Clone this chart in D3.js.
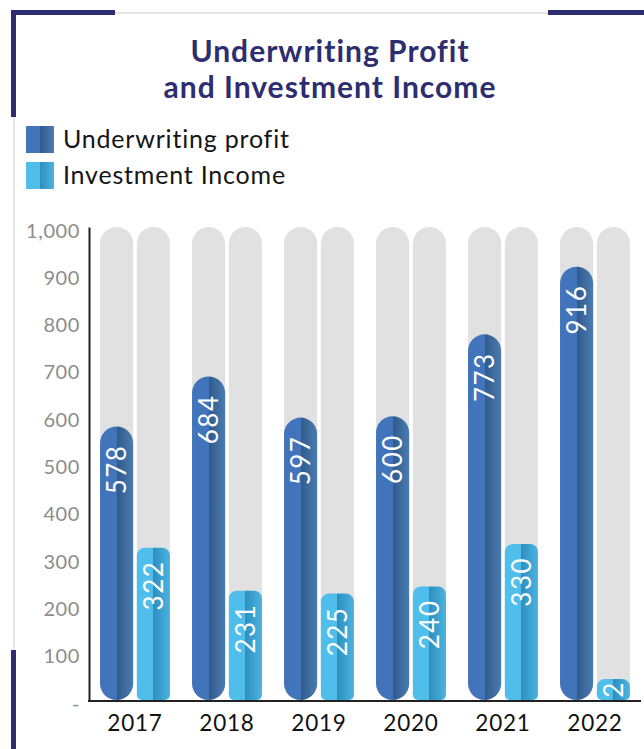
<!DOCTYPE html>
<html>
<head>
<meta charset="utf-8">
<script src="https://cdn.jsdelivr.net/npm/d3@7/dist/d3.min.js"></script>
<style>
  html, body { margin: 0; padding: 0; background: #fff; }
  svg { display: block; font-family: Lato, "Open Sans", sans-serif; }
</style>
</head>
<body>
<svg id="chart" width="644" height="749"></svg>
<script>
// ---- data ----
const years = ["2017", "2018", "2019", "2020", "2021", "2022"];
const underwritingProfit = [578, 684, 597, 600, 773, 916];
const investmentIncome = [322, 231, 225, 240, 330, 2];
const seriesNames = ["Underwriting profit", "Investment Income"];
const yTickValues = [0, 100, 200, 300, 400, 500, 600, 700, 800, 900, 1000];
const titleLines = ["Underwriting Profit", "and Investment Income"];

// ---- layout ----
const W = 644, H = 749;
const plot = { left: 89, right: 641, top: 227, bottom: 700 };
const navy = "#2e2d6f";
const minBarPx = 21;

const svg = d3.select("#chart");

// gradients: flat left half, shaded right half
const defs = svg.append("defs");
function addGradient(id, base, shadeStart, shadeEnd) {
  const g = defs.append("linearGradient").attr("id", id)
    .attr("x1", "0").attr("x2", "1").attr("y1", "0").attr("y2", "0");
  g.append("stop").attr("offset", "0").attr("stop-color", base);
  g.append("stop").attr("offset", "0.5").attr("stop-color", base);
  g.append("stop").attr("offset", "0.5").attr("stop-color", shadeStart);
  g.append("stop").attr("offset", "1").attr("stop-color", shadeEnd);
}
addGradient("gradUnder", "#4174bb", "#305a8a", "#4a7cb2");
addGradient("gradInvest", "#50beea", "#2e8fbf", "#4bb4e1");
const fills = ["url(#gradUnder)", "url(#gradInvest)"];

// ---- frame decoration ----
const frame = svg.append("g");
frame.append("line").attr("x1", 115).attr("x2", 548).attr("y1", 13).attr("y2", 13)
  .attr("stroke", "#e6e6e6").attr("stroke-width", 2);
frame.append("line").attr("x1", 14).attr("x2", 14).attr("y1", 117).attr("y2", 650)
  .attr("stroke", "#e6e6e6").attr("stroke-width", 2);
frame.append("path").attr("d", "M13.5,117 V12.5 H115")
  .attr("fill", "none").attr("stroke", navy).attr("stroke-width", 5);
frame.append("line").attr("x1", 548).attr("x2", 644).attr("y1", 12.5).attr("y2", 12.5)
  .attr("stroke", navy).attr("stroke-width", 5);
frame.append("line").attr("x1", 13.5).attr("x2", 13.5).attr("y1", 650).attr("y2", 749)
  .attr("stroke", navy).attr("stroke-width", 5);

// ---- title ----
svg.append("g").selectAll("text").data(titleLines).join("text")
  .attr("x", 330)
  .attr("y", (d, i) => 61.5 + i * 36)
  .attr("text-anchor", "middle")
  .attr("font-size", 30)
  .attr("letter-spacing", 1)
  .attr("font-weight", 700)
  .attr("fill", navy)
  .text(d => d);

// ---- legend ----
const legend = svg.append("g").selectAll("g").data(seriesNames).join("g")
  .attr("transform", (d, i) => `translate(26,${126 + i * 36})`);
legend.append("rect").attr("width", 28).attr("height", 27)
  .attr("fill", (d, i) => fills[i]);
legend.append("text").attr("x", 37).attr("y", 21.5)
  .attr("font-size", 25).attr("letter-spacing", 0.8)
  .attr("fill", "#151515").text(d => d);

// ---- scales ----
const x = d3.scaleBand().domain(years)
  .range([plot.left, plot.right]).paddingInner(0.24).paddingOuter(0.12);
const xSub = d3.scaleBand().domain([0, 1])
  .range([0, x.bandwidth()]).paddingInner(0.1);
const y = d3.scaleLinear().domain([0, 1000]).range([plot.bottom, plot.top]);

// rounded-column path with separate top/bottom radii
function column(x0, y0, w, h, rTop, rBot) {
  rTop = Math.min(rTop, w / 2, h / 2);
  rBot = Math.min(rBot, w / 2, h / 2);
  return `M${x0},${y0 + rTop}` +
    `A${rTop},${rTop} 0 0 1 ${x0 + rTop},${y0}` +
    `L${x0 + w - rTop},${y0}` +
    `A${rTop},${rTop} 0 0 1 ${x0 + w},${y0 + rTop}` +
    `L${x0 + w},${y0 + h - rBot}` +
    `A${rBot},${rBot} 0 0 1 ${x0 + w - rBot},${y0 + h}` +
    `L${x0 + rBot},${y0 + h}` +
    `A${rBot},${rBot} 0 0 1 ${x0},${y0 + h - rBot}Z`;
}

const rows = [];
years.forEach((yr, i) => {
  rows.push({ year: yr, s: 0, value: underwritingProfit[i] });
  rows.push({ year: yr, s: 1, value: investmentIncome[i] });
});

const bw = xSub.bandwidth();
const barX = d => x(d.year) + xSub(d.s);

// track columns (full scale)
svg.append("g").selectAll("path").data(rows).join("path")
  .attr("d", d => column(barX(d), y(1000), bw, y(0) - y(1000), bw / 2, bw / 2))
  .attr("fill", "#e1e1e1");

// value columns
const barTop = d => y(0) - Math.max(y(0) - y(d.value), minBarPx);
svg.append("g").selectAll("path").data(rows).join("path")
  .attr("d", d => {
    const top = barTop(d);
    const r = d.s === 0 ? bw / 2 : 8;
    const rb = d.s === 0 ? bw / 2 : 5;
    return column(barX(d), top, bw, y(0) - top, r, rb);
  })
  .attr("fill", d => fills[d.s]);

// value labels, rotated, reading upward
svg.append("g").selectAll("text").data(rows).join("text")
  .attr("transform", d => {
    const top = barTop(d);
    const h = y(0) - top;
    const cx = barX(d) + bw / 2;
    const ly = h < 60 ? top + h / 2 : top + (d.s === 0 ? 18 : 13);
    return `translate(${cx},${ly}) rotate(-90)`;
  })
  .attr("text-anchor", d => (y(0) - barTop(d) < 60 ? "middle" : "end"))
  .attr("dy", "0.36em")
  .attr("font-size", 26)
  .attr("letter-spacing", 1.5)
  .attr("fill", "#fff")
  .text(d => d3.format(",")(d.value));

// ---- axes ----
const yAxis = svg.append("g")
  .attr("transform", `translate(${plot.left},0)`)
  .call(d3.axisLeft(y).tickValues(yTickValues)
    .tickFormat(v => v === 0 ? "-" : d3.format(",")(v))
    .tickSize(0).tickPadding(9));
yAxis.select(".domain").attr("stroke", "#222").attr("stroke-width", 2);
yAxis.selectAll("text").attr("font-size", 20).attr("fill", "#8c8c8c")
  .attr("letter-spacing", 0.6)
  .attr("font-family", "Lato, sans-serif").attr("dy", "0.5em");

const xAxis = svg.append("g")
  .attr("transform", `translate(0,${plot.bottom + 1})`)
  .call(d3.axisBottom(x).tickSize(0).tickPadding(14));
xAxis.select(".domain").attr("stroke", "#222").attr("stroke-width", 2)
  .attr("d", `M${plot.left - 1},0H${plot.right}`);
xAxis.selectAll("text").attr("font-size", 22.5).attr("fill", "#111")
  .attr("letter-spacing", 0.8)
  .attr("font-family", "Lato, sans-serif");
</script>
</body>
</html>
